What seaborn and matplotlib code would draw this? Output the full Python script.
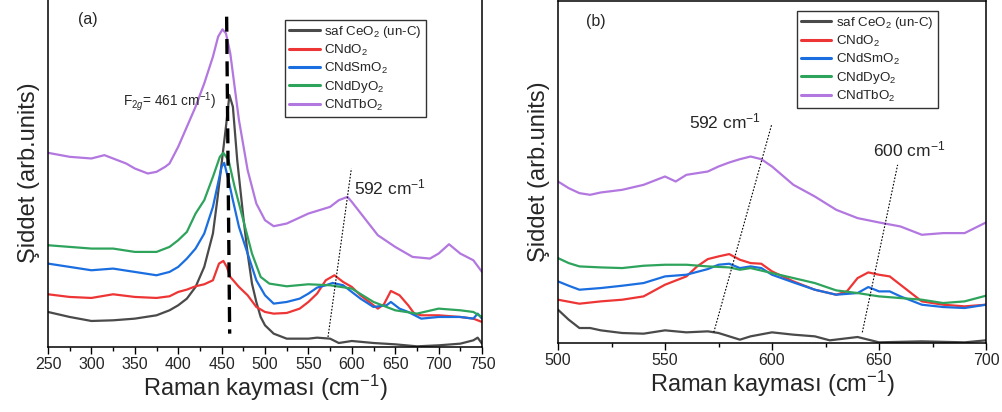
import numpy as np
import pandas as pd
import matplotlib
matplotlib.use("Agg")
import matplotlib.pyplot as plt
import seaborn as sns

# ---------------- data : panel (a) ----------------
labels = ["saf CeO$_2$ (un-C)", "CNdO$_2$", "CNdSmO$_2$", "CNdDyO$_2$", "CNdTbO$_2$"]
colors = ["#4a4a4a", "#ee3535", "#1b6ee0", "#2ea35c", "#b377e0"]

a_black_x = [250, 275, 300, 325, 350, 375, 390, 400, 410, 420, 430, 440, 445, 450, 455, 459, 463, 468, 475, 480, 485, 490, 495, 500, 510, 525, 550, 560, 575, 585, 600, 625, 650, 675, 700, 725, 740, 745, 750]
a_black_y = [105, 90, 78, 80, 85, 95, 110, 125, 145, 180, 240, 340, 440, 550, 660, 755, 720, 560, 390, 280, 190, 135, 90, 65, 40, 25, 25, 28, 25, 12, 18, 12, 8, 2, 5, 10, 20, 28, 10]

a_red_x = [250, 275, 300, 325, 350, 375, 390, 400, 410, 420, 430, 440, 447, 452, 456, 460, 470, 480, 490, 500, 510, 525, 540, 550, 560, 570, 580, 590, 600, 610, 620, 630, 637, 645, 655, 665, 672, 680, 700, 725, 740, 750]
a_red_y = [158, 150, 147, 158, 150, 147, 152, 165, 172, 182, 188, 200, 250, 258, 240, 210, 180, 155, 120, 105, 100, 102, 115, 135, 160, 200, 215, 195, 180, 155, 135, 115, 128, 168, 155, 125, 100, 95, 95, 90, 85, 75]

a_blue_x = [250, 275, 300, 325, 350, 375, 390, 400, 410, 420, 430, 440, 445, 450, 453, 458, 463, 470, 480, 490, 500, 510, 525, 540, 550, 560, 570, 578, 590, 600, 610, 625, 640, 645, 655, 665, 680, 700, 725, 740, 745, 750]
a_blue_y = [250, 240, 230, 235, 225, 215, 225, 240, 265, 295, 340, 420, 480, 540, 552, 500, 440, 360, 280, 200, 155, 130, 135, 145, 160, 178, 185, 192, 185, 165, 145, 120, 125, 135, 115, 105, 85, 90, 90, 85, 100, 85]

a_green_x = [250, 275, 300, 325, 350, 375, 390, 400, 410, 420, 430, 440, 448, 452, 458, 465, 475, 485, 495, 505, 525, 550, 575, 600, 625, 650, 675, 700, 725, 740, 750]
a_green_y = [305, 300, 295, 295, 285, 285, 300, 320, 345, 400, 440, 510, 570, 582, 560, 480, 380, 280, 210, 190, 182, 188, 185, 175, 135, 110, 100, 115, 110, 105, 90]

a_purple_x = [250, 275, 300, 315, 325, 340, 350, 365, 375, 385, 390, 400, 410, 420, 430, 440, 446, 451, 455, 460, 465, 470, 480, 490, 500, 510, 525, 550, 565, 575, 585, 595, 600, 615, 630, 650, 670, 690, 700, 712, 725, 740, 750]
a_purple_y = [582, 570, 565, 575, 565, 550, 535, 520, 525, 540, 550, 600, 660, 720, 790, 870, 930, 952, 940, 880, 780, 680, 530, 430, 380, 362, 370, 400, 412, 420, 440, 450, 435, 385, 335, 300, 270, 265, 280, 308, 280, 260, 225]

# ---------------- data : panel (b) ----------------
b_black_x = [500, 505, 510, 515, 520, 530, 540, 550, 560, 570, 575, 580, 585, 590, 600, 610, 620, 627, 640, 650, 670, 690, 700]
b_black_y = [100, 70, 45, 45, 38, 30, 28, 38, 32, 35, 30, 20, 10, 20, 32, 25, 20, 8, 18, 2, 5, 2, 8]

b_red_x = [500, 510, 520, 530, 540, 550, 560, 565, 570, 575, 580, 585, 590, 595, 600, 610, 620, 630, 635, 640, 645, 650, 655, 660, 665, 670, 680, 690, 700]
b_red_y = [130, 118, 125, 130, 140, 175, 200, 230, 252, 260, 267, 250, 240, 238, 215, 185, 160, 145, 155, 195, 212, 205, 200, 175, 150, 125, 115, 110, 115]

b_blue_x = [500, 505, 510, 520, 530, 540, 550, 560, 570, 575, 580, 585, 590, 595, 600, 610, 620, 630, 640, 645, 650, 655, 660, 670, 680, 690, 700]
b_blue_y = [185, 172, 160, 165, 172, 180, 200, 205, 222, 235, 238, 225, 230, 225, 205, 182, 160, 145, 150, 168, 155, 155, 140, 115, 108, 105, 115]

b_green_x = [500, 505, 510, 520, 530, 540, 550, 560, 570, 580, 585, 590, 600, 610, 620, 630, 640, 650, 660, 670, 680, 690, 700]
b_green_y = [255, 240, 230, 227, 225, 232, 235, 235, 230, 227, 220, 225, 210, 195, 180, 158, 150, 140, 135, 130, 120, 125, 142]

b_purple_x = [500, 505, 510, 515, 520, 530, 540, 550, 555, 560, 570, 575, 580, 585, 590, 595, 600, 610, 620, 630, 640, 650, 660, 670, 680, 690, 700]
b_purple_y = [485, 465, 450, 445, 452, 460, 475, 500, 485, 505, 515, 530, 542, 552, 560, 552, 530, 475, 440, 400, 375, 362, 350, 325, 330, 330, 362]

a_ticks = [250, 300, 350, 400, 450, 500, 550, 600, 650, 700, 750]
b_ticks = [500, 550, 600, 650, 700]


def make_df(xs, ys):
    rows = []
    for lab, x, y in zip(labels, xs, ys):
        for xi, yi in zip(x, y):
            rows.append((xi, yi, lab))
    return pd.DataFrame(rows, columns=["x", "y", "sample"])


df_a = make_df([a_black_x, a_red_x, a_blue_x, a_green_x, a_purple_x],
               [a_black_y, a_red_y, a_blue_y, a_green_y, a_purple_y])
df_b = make_df([b_black_x, b_red_x, b_blue_x, b_green_x, b_purple_x],
               [b_black_y, b_red_y, b_blue_y, b_green_y, b_purple_y])

sns.set_style("ticks")
plt.rcParams["font.family"] = ["Liberation Sans", "DejaVu Sans"]
plt.rcParams["mathtext.fontset"] = "custom"
plt.rcParams["mathtext.rm"] = "Liberation Sans"
plt.rcParams["mathtext.it"] = "Liberation Sans:italic"
plt.rcParams["mathtext.bf"] = "Liberation Sans:bold"

W, H = 1002, 412
fig = plt.figure(figsize=(W / 100, H / 100), dpi=100)
ax1 = fig.add_axes([48 / W, (H - 347) / H, (482 - 48) / W, 348 / H])
ax2 = fig.add_axes([558 / W, (H - 343) / H, (986 - 558) / W, 342 / H])

palette = dict(zip(labels, colors))
for ax, df in ((ax1, df_a), (ax2, df_b)):
    sns.lineplot(data=df, x="x", y="y", hue="sample", hue_order=labels,
                 palette=palette, estimator=None, sort=False, lw=1.6, ax=ax)

ax1.set_xlim(250, 750)
ax1.set_ylim(0, 1043)
ax2.set_xlim(500, 700)
ax2.set_ylim(0, 1027)

for ax, ticks in ((ax1, a_ticks), (ax2, b_ticks)):
    ax.set_xticks(ticks)
    ax.set_xticks([t + 25 for t in ticks[:-1]], minor=True)
    ax.set_yticks([])
    ax.tick_params(axis="x", which="major", direction="out", length=5, width=1,
                   labelsize=11.5, pad=2, color="black")
    ax.tick_params(axis="x", which="minor", direction="out", length=3, width=1, color="black")
    for s in ax.spines.values():
        s.set_visible(True)
        s.set_color("black")
        s.set_linewidth(1.1)
    ax.set_xlabel("Raman kayması (cm$^{-1}$)", fontsize=17, labelpad=1)
    ax.set_ylabel("Şiddet (arb.units)", fontsize=17, labelpad=6)
    if ax.get_legend():
        ax.get_legend().remove()

# legends
for ax, anchor in ((ax1, (0.546, 0.94)), (ax2, (0.558, 0.971))):
    handles, labs = ax.get_legend_handles_labels()
    leg = ax.legend(handles, labs, loc="upper left", bbox_to_anchor=anchor,
                    borderaxespad=0, fontsize=9.6, handlelength=2.3,
                    handletextpad=0.35, labelspacing=0.22, fancybox=False,
                    framealpha=1, edgecolor="#333333", borderpad=0.3)
    leg.get_frame().set_linewidth(1.0)
    for h in leg.get_lines():
        h.set_linewidth(2.2)

# annotations panel (a)
ax1.text(0.07, 0.94, "(a)", transform=ax1.transAxes, fontsize=11.5, va="center", ha="left")
ax1.plot([455.8, 459.3], [990, 40], color="black", lw=2.4, ls=(0, (4.5, 2.2)))
ax1.text(336, 735, "F$_{2g}$= 461 cm$^{-1}$)", fontsize=9.8, va="center", ha="left")
ax1.plot([572.6, 599.5], [30, 535], color="black", lw=0.8, ls=(0, (1.5, 1.5)))
ax1.text(603, 478, "592 cm$^{-1}$", fontsize=12.5, va="center", ha="left")

# annotations panel (b)
ax2.text(0.065, 0.94, "(b)", transform=ax2.transAxes, fontsize=11.5, va="center", ha="left")
ax2.plot([572.8, 599.8], [32, 655], color="black", lw=0.8, ls=(0, (1.5, 1.5)))
ax2.plot([642.2, 658.7], [32, 535], color="black", lw=0.8, ls=(0, (1.5, 1.5)))
ax2.text(561, 665, "592 cm$^{-1}$", fontsize=12.5, va="center", ha="left")
ax2.text(647, 580, "600 cm$^{-1}$", fontsize=12.5, va="center", ha="left")

fig.savefig("out.png", dpi=100)
